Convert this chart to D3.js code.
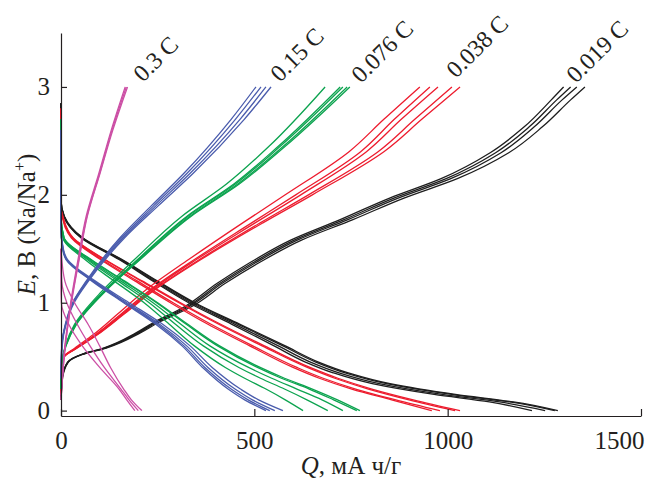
<!DOCTYPE html>
<html>
<head>
<meta charset="utf-8">
<script src="https://cdn.jsdelivr.net/npm/d3@7"></script>
<style>
	body { margin: 0; background: #fff; }
</style>
</head>
<body>
<svg id="chart" width="645" height="480"></svg>
<script>

// C-rate labels, in the order the curves are drawn
const rateLabels = ["0.019 C", "0.038 C", "0.076 C", "0.15 C", "0.3 C"];

const xTicks = [0, 500, 1000, 1500];
const yTicks = [0, 1, 2, 3];

// --- 0.019 C (black) ---
const chargeE_0019 = [0.1, 0.3, 0.45, 0.52, 0.58, 0.72, 0.81, 0.96, 1.18, 1.37, 1.58, 1.77, 1.97, 2.15, 2.39, 2.63, 2.88, 3.0];
const chargeQ_0019 = [
	[0, 3, 17, 52, 110, 194, 236, 318, 404, 488, 594, 722, 850, 983, 1110, 1198, 1268, 1300],
	[0, 3, 18, 53, 112, 198, 240, 324, 411, 496, 603, 732, 861, 996, 1124, 1211, 1282, 1318],
	[0, 3, 18, 54, 114, 201, 244, 329, 417, 503, 611, 742, 872, 1008, 1138, 1224, 1296, 1334],
	[0, 4, 19, 56, 117, 205, 249, 336, 425, 512, 622, 755, 887, 1025, 1158, 1245, 1318, 1355]
];
const dischargeE_0019 = [2.85, 1.95, 1.8, 1.6, 1.4, 1.2, 1.0, 0.8, 0.6, 0.45, 0.35, 0.25, 0.15, 0.08, 0];
const dischargeQ_0019 = [
	[0, 0, 7, 52, 150, 238, 330, 442, 551, 632, 704, 805, 965, 1108, 1218],
	[0, 0, 8, 54, 153, 242, 336, 450, 562, 645, 719, 823, 986, 1134, 1252],
	[0, 0, 8, 56, 156, 247, 342, 458, 574, 659, 735, 842, 1010, 1160, 1277],
	[0, 0, 9, 57, 158, 250, 346, 463, 580, 666, 743, 851, 1020, 1170, 1285]
];

// --- 0.038 C (red) ---
const chargeE_0038 = [0.15, 0.4, 0.5, 0.58, 0.7, 0.9, 1.12, 1.4, 1.74, 2.0, 2.4, 2.7, 3.0];
const chargeQ_0038 = [
	[0, 2, 7, 36, 82, 148, 220, 330, 470, 580, 745, 835, 928],
	[0, 2, 8, 39, 88, 157, 231, 345, 493, 607, 775, 862, 954],
	[0, 2, 8, 40, 90, 160, 235, 350, 502, 620, 790, 880, 975],
	[0, 2, 8, 41, 92, 163, 240, 358, 515, 640, 820, 915, 1011],
	[0, 3, 9, 42, 93, 165, 243, 362, 522, 650, 835, 933, 1032]
];
const dischargeE_0038 = [2.8, 1.88, 1.8, 1.6, 1.4, 1.2, 1.0, 0.8, 0.6, 0.4, 0.3, 0.2, 0.1, 0];
const dischargeQ_0038 = [
	[0, 0, 3, 27, 102, 192, 283, 380, 488, 600, 668, 752, 855, 959],
	[0, 0, 4, 29, 106, 198, 290, 388, 496, 610, 678, 762, 866, 980],
	[0, 0, 4, 31, 112, 208, 305, 408, 520, 637, 708, 795, 900, 1019],
	[0, 0, 5, 32, 114, 211, 309, 413, 526, 644, 716, 804, 911, 1032]
];

// --- 0.076 C (green) ---
const chargeE_0076 = [0.2, 0.45, 0.6, 0.8, 1.1, 1.4, 1.8, 2.1, 2.45, 3.0];
const chargeQ_0076 = [
	[0, 3, 11, 35, 104, 190, 312, 428, 538, 683],
	[0, 3, 12, 37, 109, 198, 325, 447, 562, 722],
	[0, 3, 12, 38, 110, 200, 328, 451, 567, 729],
	[0, 3, 12, 39, 112, 203, 333, 457, 575, 740],
	[0, 4, 13, 40, 113, 205, 336, 461, 580, 747]
];
const dischargeE_0076 = [2.7, 1.8, 1.6, 1.4, 1.2, 1.0, 0.8, 0.6, 0.4, 0.3, 0.2, 0.1, 0];
const dischargeQ_0076 = [
	[0, 0, 5, 62, 138, 215, 280, 345, 425, 475, 530, 580, 626],
	[0, 0, 6, 68, 148, 228, 296, 368, 460, 516, 578, 636, 690],
	[0, 0, 7, 72, 155, 238, 310, 385, 485, 545, 610, 675, 729],
	[0, 0, 8, 76, 162, 247, 324, 405, 508, 570, 642, 705, 765],
	[0, 0, 8, 78, 165, 250, 328, 410, 515, 578, 650, 715, 773]
];

// --- 0.15 C (blue) ---
const chargeE_015 = [0.3, 0.6, 0.8, 1.0, 1.2, 1.6, 1.9, 2.2, 2.7, 3.0];
const chargeQ_015 = [
	[0, 2, 11, 30, 65, 152, 234, 318, 440, 504],
	[0, 2, 12, 31, 67, 156, 240, 326, 451, 517],
	[0, 2, 12, 32, 69, 160, 246, 334, 463, 530],
	[0, 3, 13, 34, 71, 164, 252, 342, 474, 543]
];
const dischargeE_015 = [2.6, 1.7, 1.5, 1.4, 1.2, 1.0, 0.8, 0.6, 0.4, 0.2, 0.1, 0];
const dischargeQ_015 = [
	[0, 0, 4, 13, 80, 162, 245, 313, 366, 432, 475, 530],
	[0, 0, 5, 14, 83, 166, 250, 318, 372, 440, 484, 540],
	[0, 0, 5, 15, 85, 170, 255, 325, 380, 450, 495, 553],
	[0, 0, 6, 17, 89, 176, 263, 334, 391, 464, 511, 574]
];

// --- 0.3 C (magenta) ---
const chargeE_03 = [0.1, 0.6, 1.0, 1.4, 1.8, 2.2, 2.6, 3.0];
const chargeQ_03 = [
	[0, 10, 25, 44, 65, 98, 130, 166],
	[0, 11, 26, 46, 67, 100, 132, 169],
	[0, 11, 27, 47, 68, 101, 134, 172]
];
const dischargeE_03 = [1.5, 1.2, 1.0, 0.8, 0.6, 0.4, 0.2, 0.1, 0];
const dischargeQ_03 = [
	[0, 10, 35, 70, 100, 128, 162, 182, 209],
	[0, 2, 15, 42, 75, 112, 155, 176, 200],
	[0, 0, 1, 20, 55, 100, 150, 170, 191]
];

const rateColors = ["#1e1e1e", "#ed1c2e", "#0ca34f", "#4a5cad", "#cc4fa5"];
const fontFamily = "'Liberation Serif', 'Times New Roman', Times, serif";

const svg = d3.select("#chart").attr("font-family", fontFamily);
const width = 645, height = 480;
const margin = { left: 61, right: 4, top: 33, bottom: 64 };

const x = d3.scaleLinear().domain([0, 1500]).range([margin.left, width - margin.right]);
const y = d3.scaleLinear().domain([-0.05, 3.5]).range([height - margin.bottom, margin.top]);

const rateData = [
	{ cE: chargeE_0019, cQ: chargeQ_0019, dE: dischargeE_0019, dQ: dischargeQ_0019 },
	{ cE: chargeE_0038, cQ: chargeQ_0038, dE: dischargeE_0038, dQ: dischargeQ_0038 },
	{ cE: chargeE_0076, cQ: chargeQ_0076, dE: dischargeE_0076, dQ: dischargeQ_0076 },
	{ cE: chargeE_015, cQ: chargeQ_015, dE: dischargeE_015, dQ: dischargeQ_015 },
	{ cE: chargeE_03, cQ: chargeQ_03, dE: dischargeE_03, dQ: dischargeQ_03 }
];

// one entry per drawn curve, points ordered top to bottom (E descending)
const curves = [];
rateData.forEach((r, i) => {
	r.cQ.forEach(qs => {
		curves.push({ rate: i, pts: qs.map((q, k) => ({ q, e: r.cE[k] })).reverse() });
	});
	r.dQ.forEach(qs => {
		curves.push({ rate: i, pts: qs.map((q, k) => ({ q, e: r.dE[k] })) });
	});
});

const line = d3.line()
	.x(d => x(d.q))
	.y(d => y(d.e))
	.curve(d3.curveMonotoneY);

svg.append("g")
	.selectAll("path")
	.data(curves)
	.join("path")
	.attr("d", d => line(d.pts))
	.attr("fill", "none")
	.attr("stroke", d => rateColors[d.rate])
	.attr("stroke-width", 1.3);

// axes
const xAxis = svg.append("g")
	.attr("transform", `translate(0,${height - margin.bottom})`)
	.call(d3.axisBottom(x).tickValues(xTicks).tickFormat(d3.format("d"))
		.tickSize(-7).tickSizeOuter(0).tickPadding(15));

const yAxis = svg.append("g")
	.attr("transform", `translate(${margin.left},0)`)
	.call(d3.axisLeft(y).tickValues(yTicks).tickFormat(d3.format("d"))
		.tickSize(-6).tickSizeOuter(0).tickPadding(11));

[xAxis, yAxis].forEach(a => {
	a.attr("font-family", fontFamily).attr("font-size", 25);
	a.selectAll("path, line").attr("stroke", "#231f20").attr("stroke-width", 1.2);
	a.selectAll("text").attr("fill", "#231f20");
});

// last x label sits left of its tick so it stays inside the frame
xAxis.selectAll(".tick text")
	.filter(d => d === 1500)
	.attr("text-anchor", "end")
	.attr("x", 3);

// axis titles
const xTitle = svg.append("text")
	.attr("x", (x.range()[0] + x.range()[1]) / 2)
	.attr("y", 474)
	.attr("text-anchor", "middle")
	.attr("font-size", 25)
	.attr("fill", "#231f20");
xTitle.append("tspan").attr("font-style", "italic").text("Q");
xTitle.append("tspan").text(", мА ч/г");

const yTitle = svg.append("text")
	.attr("transform", `translate(35,${(y.range()[0] + y.range()[1]) / 2}) rotate(-90)`)
	.attr("text-anchor", "middle")
	.attr("font-size", 25)
	.attr("fill", "#231f20");
yTitle.append("tspan").attr("font-style", "italic").text("E");
yTitle.append("tspan").text(", В (Na/Na");
yTitle.append("tspan").attr("font-size", 16).attr("dy", -10).text("+");
yTitle.append("tspan").attr("dy", 10).text(")");

// rate labels
const labelPos = [[576, 84], [456, 79], [361, 84], [280, 83], [143, 83]];
svg.append("g")
	.selectAll("text")
	.data(rateLabels)
	.join("text")
	.attr("transform", (d, i) => `translate(${labelPos[i][0]},${labelPos[i][1]}) rotate(-45)`)
	.attr("font-size", 24)
	.attr("fill", "#231f20")
	.text(d => d);

</script>
</body>
</html>
